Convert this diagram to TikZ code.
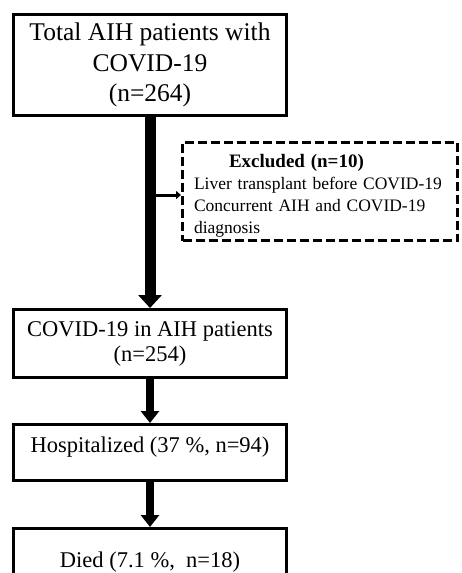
\documentclass[tikz,border=0pt]{standalone}
\usepackage{fontspec}
\setmainfont{Liberation Serif}
\usetikzlibrary{arrows.meta, positioning}

\begin{document}
\begin{tikzpicture}[
    x=1pt, y=1pt,
    box/.style={draw, line width=3pt, rectangle, minimum width=273pt, align=center, fill=white, font=\fontsize{22.5}{25}\selectfont},
    exclbox/.style={draw, line width=3pt, dash pattern=on 9pt off 4pt, rectangle, minimum width=275pt, minimum height=94pt, text width=252pt, inner xsep=11.5pt, align=left, font=\fontsize{17.5}{22}\selectfont},
    mainarrow/.style={line width=11pt, -{Triangle[width=23pt, length=13pt]}},
    arrow/.style={line width=8pt, -{Triangle[width=18pt, length=12pt]}},
    sidearrow/.style={line width=3pt, -{Triangle[width=8pt, length=5pt]}}
]
    \useasboundingbox (0,0) rectangle (462,-573);
    \clip (0,0) rectangle (462,-573);

    \node[box, minimum height=101pt, font=\fontsize{25.5}{30.5}\selectfont] (total) at (150,-65) {Total AIH patients with\\COVID-19\\(n=264)};
    \node[box, below=191pt of total, minimum height=68pt] (covid) {COVID-19 in AIH patients\\(n=254)};
    \node[box, below=44pt of covid, minimum height=56pt, text depth=15pt] (hosp) {Hospitalized (37 \%, n=94)};
    \node[box, below=45pt of hosp, minimum height=68pt] (died) {Died (7.1 \%,\ \ n=18)};

    % exclusion branch off the main shaft
    \coordinate[below=78pt of total] (branch);
    \node[exclbox, right=31pt of branch, yshift=3.5pt, text height=22pt] (excl) {\hspace*{35pt}{\fontsize{19}{22}\selectfont\bfseries Excluded (n=10)}\\Liver transplant before COVID-19\\Concurrent AIH and COVID-19\\diagnosis};

    \draw[mainarrow] (total) -- (covid);
    \draw[sidearrow] (branch) -- (excl.west |- branch);
    \draw[arrow] (covid) -- (hosp);
    \draw[arrow] (hosp) -- (died);
\end{tikzpicture}
\end{document}
